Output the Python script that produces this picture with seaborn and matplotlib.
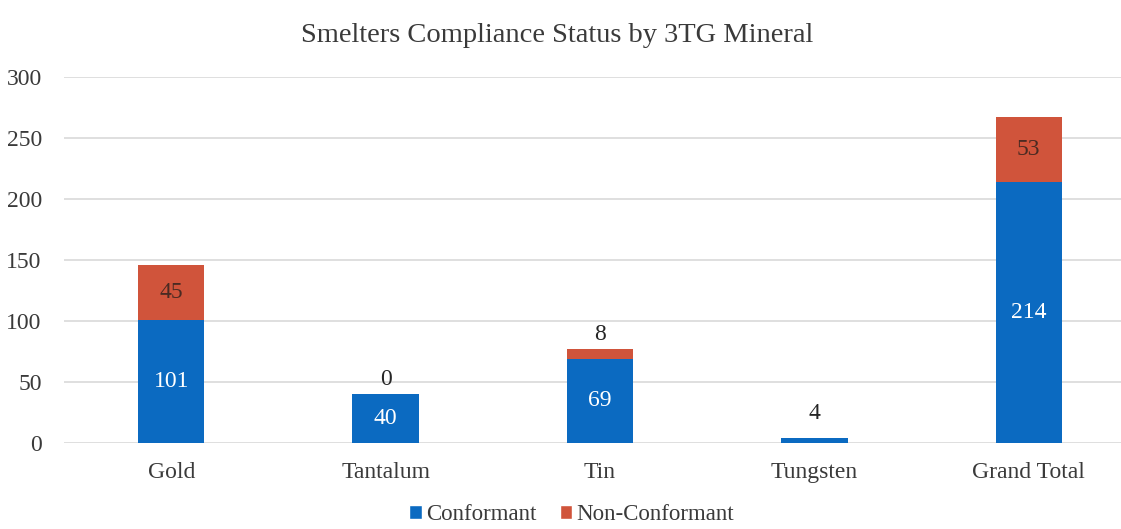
import matplotlib
matplotlib.use("Agg")
import matplotlib.pyplot as plt
import seaborn as sns
import pandas as pd
from matplotlib.patches import Patch

categories = ["Gold", "Tantalum", "Tin", "Tungsten", "Grand Total"]
conformant = [101, 40, 69, 4, 214]
non_conformant = [45, 0, 8, None, 53]
title = "Smelters Compliance Status by 3TG Mineral"
yticks = [0, 50, 100, 150, 200, 250, 300]

BLUE = "#0B6AC1"
RED = "#D0543B"
GRID = "#D9D9D9"
TXT = "#3a3a3a"

sns.set_theme(style="white")
plt.rcParams["font.family"] = ["Liberation Serif", "DejaVu Serif"]

df = pd.DataFrame({
    "category": categories,
    "conformant": conformant,
    "non_conformant": [v if v is not None else 0 for v in non_conformant],
})
df["total"] = df["conformant"] + df["non_conformant"]

W, H = 1121, 529
fig = plt.figure(figsize=(W / 100, H / 100), dpi=100)
left_px, right_px = 64, 1121
ax = fig.add_axes([left_px / W, 1 - 443 / H, (right_px - left_px) / W, 366 / H])

sns.barplot(data=df, x="category", y="total", color=RED, width=0.31,
            saturation=1, linewidth=0, ax=ax, zorder=3)
sns.barplot(data=df, x="category", y="conformant", color=BLUE, width=0.31,
            saturation=1, linewidth=0, ax=ax, zorder=3)

slot = 214.4
ax.set_ylim(0, 300)
ax.set_xlim(-0.5, -0.5 + (right_px - left_px) / slot)
ax.set_yticks(yticks)
ax.set_yticklabels([str(t) for t in yticks])
ax.grid(axis="y", color=GRID, linewidth=1.2, zorder=0)
ax.set_axisbelow(True)
for s in ax.spines.values():
    s.set_visible(False)
ax.tick_params(axis="x", length=0, labelsize=17, colors=TXT, pad=14)
ax.tick_params(axis="y", length=0, labelsize=17, colors=TXT, pad=16)
ax.set_xlabel("")
ax.set_ylabel("")

fs = 17
for i, (c, n) in enumerate(zip(conformant, non_conformant)):
    tot = c + (n or 0)
    if c >= 20:
        ax.text(i, c / 2, str(c), ha="center", va="center", color="white",
                fontsize=fs, zorder=5)
    else:
        ax.annotate(str(c), (i, tot), xytext=(0, 18), textcoords="offset points",
                    ha="center", va="center", color="#262626", fontsize=fs, zorder=5)
    if n is None:
        continue
    if n >= 20:
        ax.text(i, c + n / 2, str(n), ha="center", va="center", color="#4a2a22",
                fontsize=fs, zorder=5)
    else:
        ax.annotate(str(n), (i, tot), xytext=(0, 10.5), textcoords="offset points",
                    ha="center", va="center", color="#262626", fontsize=fs, zorder=5)

fig.text(0.497, 1 - 35 / H, title, ha="center", va="center", fontsize=20.5, color=TXT)

handles = [Patch(facecolor=BLUE, label="Conformant"),
           Patch(facecolor=RED, label="Non-Conformant")]
fig.legend(handles=handles, loc="center", bbox_to_anchor=(0.51, 1 - 515 / H),
           ncol=2, frameon=False, fontsize=16.5, handlelength=0.55,
           handleheight=0.55, handletextpad=0.2, columnspacing=1.0,
           labelcolor=TXT, borderpad=0.1)

fig.savefig("out.png", dpi=100, facecolor="white")
